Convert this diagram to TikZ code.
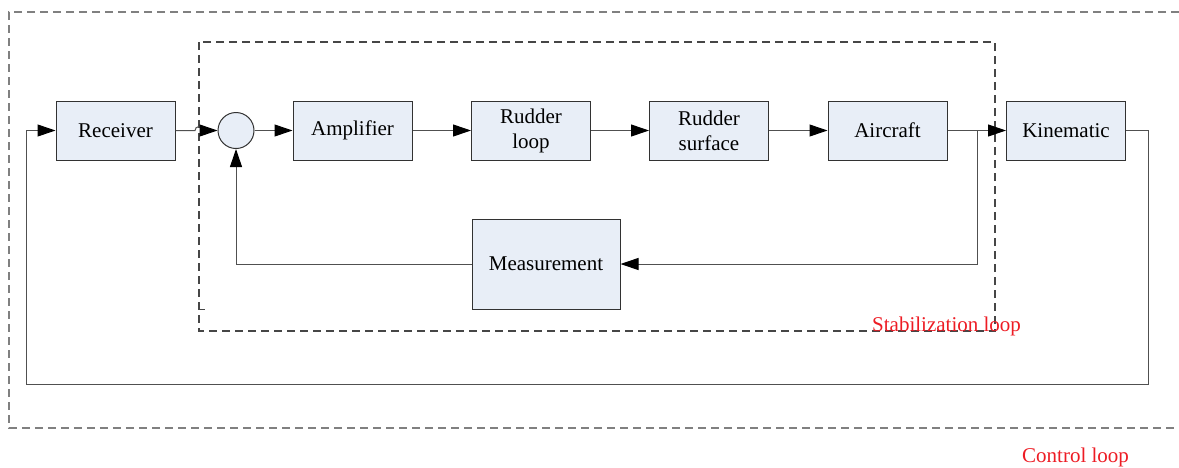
\documentclass[tikz,border=0pt]{standalone}
\usepackage{fontspec}
\setmainfont{Liberation Serif}
\usetikzlibrary{arrows.meta}
\definecolor{boxfill}{RGB}{232,238,247}
\definecolor{boxline}{RGB}{50,50,50}
\definecolor{lineclr}{RGB}{80,80,80}
\definecolor{outerdash}{RGB}{128,128,128}
\definecolor{innerdash}{RGB}{70,70,70}
\definecolor{lblred}{RGB}{237,28,36}
\begin{document}
\begin{tikzpicture}[x=1pt,y=-1pt,
  blk/.style={draw=boxline,line width=1pt,fill=boxfill,minimum width=119pt,minimum height=59pt,inner sep=0pt,align=center,font=\fontsize{21}{25}\selectfont},
  sumc/.style={draw=boxline,line width=1pt,fill=boxfill,circle,minimum size=36pt,inner sep=0pt},
  conn/.style={draw=lineclr,line width=1pt},
  arr/.style={conn,-{Triangle[length=18pt,width=12pt,color=black]}},
  lbl/.style={text=lblred,font=\fontsize{21}{25}\selectfont,inner sep=0pt,anchor=west}]
\useasboundingbox (0,0) rectangle (1179,467);
% dashed frames
\draw[outerdash,line width=1.3pt,dash pattern=on 8pt off 5pt] (1179,12) -- (9,12) -- (9,428) -- (1179,428);
\draw[innerdash,line width=1.1pt,dash pattern=on 8pt off 5pt] (199,42) rectangle (995,331);
\draw[innerdash,line width=1pt] (199,309) -- (205,309);
% blocks
\node[blk] (rec) at (115.5,130.5) {Receiver};
\node[sumc] (sum) at (236,130.5) {};
\node[blk] (amp) at (352.5,130.5) {Amplifier};
\node[blk] (rl) at (531,130.5) {Rudder\\loop};
\node[blk] (rs) at (709,130.5) {Rudder\\surface};
\node[blk] (ac) at (887.5,130.5) {Aircraft};
\node[blk] (kin) at (1066,130.5) {Kinematic};
\node[blk,minimum width=148pt,minimum height=90pt] (meas) at (546,264) {Measurement};
% labels
\node[lbl] (stab) at (872,326) {Stabilization loop};
\node[lbl] (ctl) at (1022,457) {Control loop};
% connectors
\coordinate (h1) at (195,130.5);
\coordinate (h2) at (203,130.5);
\draw[conn] (rec.east) -- (h1) arc[start angle=180,end angle=0,radius=4pt];
\draw[arr] (h2) -- (sum.west);
\draw[arr] (sum.east) -- (amp.west);
\draw[arr] (amp.east) -- (rl.west);
\draw[arr] (rl.east) -- (rs.west);
\draw[arr] (rs.east) -- (ac.west);
\draw[arr] (ac.east) -- (kin.west);
\coordinate (br) at (977,130.5);
\draw[arr] (br) |- (meas.east);
\draw[arr] (meas.west) -| (sum.south);
\coordinate (k1) at (1148,130.5);
\coordinate (k2) at (1148,384);
\coordinate (k3) at (26,384);
\coordinate (k4) at (26,130.5);
\draw[arr] (kin.east) -- (k1) -- (k2) -- (k3) -- (k4) -- (rec.west);
\end{tikzpicture}
\end{document}
